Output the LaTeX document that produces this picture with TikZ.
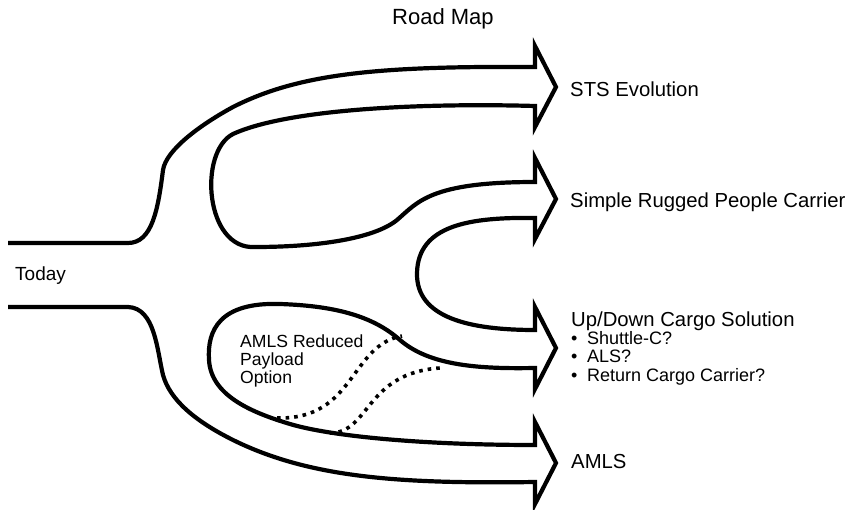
\documentclass[tikz,border=0pt]{standalone}
\usepackage{fontspec}
\setmainfont{Liberation Sans}
\begin{document}
\begin{tikzpicture}[x=1pt, y=1pt,
    road/.style={line width=4.2pt, line join=miter, miter limit=10},
    option/.style={line width=3.6pt, dash pattern=on 3.6pt off 5pt},
    lbl/.style={anchor=base west, inner sep=0pt, font=\fontsize{20.3}{18}\selectfont}]
  \useasboundingbox (0,0) rectangle (850,-510);
  % the roads, one outline from Today round to Today
  \draw [road] (8,-243) -- (128,-243)
      .. controls (152,-243) and (158,-210) .. (163,-170)
      .. controls (166,-150) and (200,-125) .. (233,-107)
      .. controls (300,-73) and (380,-66) .. (535,-67)
    -- (535,-46) -- (556,-87) -- (535,-127) -- (535,-106)
      .. controls (430,-103) and (290,-108) .. (233,-134)
      .. controls (198,-152) and (205,-250) .. (255,-247)
      .. controls (320,-247) and (375,-238) .. (397,-220)
      .. controls (418,-202) and (430,-182) .. (535,-182)
    -- (535,-158) -- (556,-199) -- (535,-239) -- (535,-218)
      .. controls (470,-217) and (418,-225) .. (417,-273)
      .. controls (416,-318) and (470,-330) .. (535,-330)
    -- (535,-307) -- (556,-348) -- (535,-389) -- (535,-368)
      .. controls (480,-369) and (430,-366) .. (400,-340)
      .. controls (375,-318) and (340,-306) .. (280,-304)
      .. controls (220,-302) and (207,-330) .. (209,-360)
      .. controls (211,-395) and (250,-412) .. (290,-424)
      .. controls (330,-436) and (420,-445) .. (535,-445)
    -- (535,-422) -- (556,-463) -- (535,-504) -- (535,-482)
      .. controls (400,-484) and (310,-478) .. (233,-440)
      .. controls (195,-421) and (170,-400) .. (163,-375)
      .. controls (157,-350) and (155,-308) .. (128,-307)
    -- (8,-307);
  % reduced payload option
  \draw [option] (277,-418) .. controls (355,-420) and (350,-345) .. (402,-336);
  \draw [option] (330,-433) .. controls (370,-433) and (365,-373) .. (440,-368);
  % labels
  \node [lbl, font=\fontsize{22}{18}\selectfont] (title) at (392,-25) {Road Map};
  \node [lbl] (sts) at (570,-97) {STS Evolution};
  \node [lbl] (people) at (570,-208) {Simple Rugged People Carrier};
  \node [lbl, font=\fontsize{19}{18}\selectfont] (today) at (15,-280) {Today};
  \node [lbl, align=left, font=\fontsize{17.6}{18}\selectfont] (reduced) at (240,-383) {AMLS Reduced\\Payload\\Option};
  \node [lbl] (cargo) at (571,-326) {Up/Down Cargo Solution};
  \node [lbl, align=left, font=\fontsize{18}{18.5}\selectfont] (cargolist) at (571,-381) {\makebox[16pt][l]{•}Shuttle-C?\\\makebox[16pt][l]{•}ALS?\\\makebox[16pt][l]{•}Return Cargo Carrier?};
  \node [lbl] (amls) at (571,-468) {AMLS};
\end{tikzpicture}
\end{document}
